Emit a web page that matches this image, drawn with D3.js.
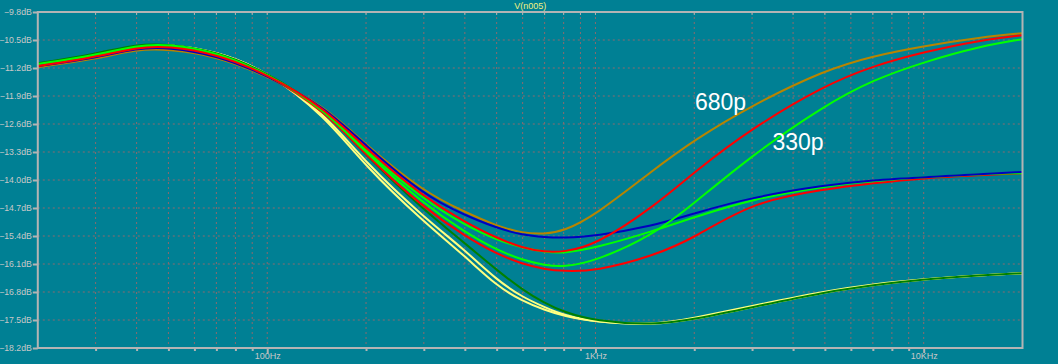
<!DOCTYPE html>
<html>
<head>
<meta charset="utf-8">
<script src="https://cdn.jsdelivr.net/npm/d3@7"></script>
<style>
  html, body { margin: 0; padding: 0; background: #008094; }
  svg { display: block; }
</style>
</head>
<body>
<div id="chart"></div>
<script>
"use strict"

const freqs = [20, 30, 40, 50, 70, 100, 150, 200, 300, 400, 500, 600, 700, 800,
               1000, 1500, 2000, 3000, 5000, 7000, 10000, 15000, 20000];

// V(n005) in dB, one array per trace
const orangeDb   = [-11.18,-10.98,-10.73,-10.73,-10.90,-11.40,-12.15,-13.13,-14.30,-14.80,-15.15,-15.33,-15.35,-15.28,-14.88,-13.75,-13.00,-12.13,-11.25,-10.90,-10.65,-10.43,-10.33];
const blueDb     = [-11.15,-10.95,-10.70,-10.68,-10.88,-11.38,-12.18,-13.15,-14.38,-14.88,-15.20,-15.38,-15.43,-15.45,-15.40,-15.15,-14.83,-14.43,-14.13,-14.00,-13.93,-13.85,-13.80];
const redUpDb    = [-11.15,-10.93,-10.68,-10.65,-10.85,-11.35,-12.20,-13.23,-14.43,-15.05,-15.45,-15.70,-15.80,-15.80,-15.63,-14.68,-13.80,-12.70,-11.63,-11.15,-10.80,-10.50,-10.38];
const greenMidDb = [-11.13,-10.90,-10.65,-10.63,-10.83,-11.33,-12.23,-13.28,-14.50,-15.13,-15.50,-15.70,-15.80,-15.83,-15.70,-15.28,-14.93,-14.48,-14.15,-14.03,-13.93,-13.85,-13.83];
const green330Db = [-11.10,-10.88,-10.63,-10.60,-10.80,-11.33,-12.25,-13.33,-14.60,-15.30,-15.75,-16.00,-16.13,-16.18,-16.03,-15.38,-14.58,-13.38,-12.13,-11.50,-11.05,-10.65,-10.48];
const redLowDb   = [-11.15,-10.93,-10.68,-10.65,-10.85,-11.35,-12.28,-13.38,-14.70,-15.40,-15.85,-16.10,-16.23,-16.28,-16.28,-15.90,-15.45,-14.55,-14.23,-14.08,-13.95,-13.88,-13.83];
const yellow1Db  = [-11.10,-10.88,-10.63,-10.60,-10.78,-11.28,-12.35,-13.58,-14.93,-15.75,-16.50,-16.93,-17.18,-17.38,-17.55,-17.63,-17.48,-17.18,-16.80,-16.63,-16.48,-16.38,-16.33];
const yellow2Db  = [-11.10,-10.88,-10.63,-10.60,-10.78,-11.28,-12.40,-13.68,-15.05,-15.90,-16.65,-17.03,-17.25,-17.40,-17.55,-17.63,-17.45,-17.15,-16.78,-16.60,-16.48,-16.38,-16.33];
const dkGreenDb  = [-11.08,-10.85,-10.60,-10.60,-10.78,-11.30,-12.25,-13.40,-14.75,-15.58,-16.25,-16.75,-17.08,-17.30,-17.53,-17.63,-17.48,-17.18,-16.80,-16.63,-16.48,-16.38,-16.33];

const yTickValues = [-9.8, -10.5, -11.2, -11.9, -12.6, -13.3, -14.0, -14.7, -15.4, -16.1, -16.8, -17.5, -18.2];
const xTickValues = [100, 1000, 10000];
const xTickLabels = ["100Hz", "1KHz", "10KHz"];
const title = "V(n005)";

const traces = [
  {values: yellow1Db,  color: "#ffff80"},
  {values: yellow2Db,  color: "#ffff80"},
  {values: dkGreenDb,  color: "#008000"},
  {values: orangeDb,   color: "#b88400"},
  {values: redLowDb,   color: "#ff0000"},
  {values: greenMidDb, color: "#00ff00"},
  {values: blueDb,     color: "#0000c0"},
  {values: green330Db, color: "#00ff00"},
  {values: redUpDb,    color: "#ff0000"}
];

const notes = [
  {text: "680p", f: 2010, db: -12.25},
  {text: "330p", f: 3460, db: -13.25}
];

let width = 1058, height = 364;
let margin = {top: 12, right: 35.5, bottom: 16, left: 37.8};

let svg = d3.select("#chart")
            .append("svg")
            .attr("width", width)
            .attr("height", height);

svg.append("rect")
   .attr("width", width)
   .attr("height", height)
   .attr("fill", "#008094");

let x = d3.scaleLog()
          .domain([20, 20000])
          .range([margin.left, width - margin.right]);

let y = d3.scaleLinear()
          .domain([-18.2, -9.8])
          .range([height - margin.bottom, margin.top]);

// log grid lines between decades
let gridFreqs = [];
[10, 100, 1000, 10000].forEach(dec => {
  for (let k = 1; k < 10; k++) {
    let f = dec * k;
    if (f > 20 && f < 20000) gridFreqs.push(f);
  }
});

svg.append("g")
   .selectAll("line")
   .data(gridFreqs)
   .enter()
   .append("line")
   .attr("x1", d => x(d)).attr("x2", d => x(d))
   .attr("y1", margin.top).attr("y2", height - margin.bottom)
   .attr("stroke", "#8a6a6e")
   .attr("stroke-width", 1)
   .attr("stroke-dasharray", "2,3");

svg.append("g")
   .selectAll("line")
   .data(yTickValues.slice(1, -1))
   .enter()
   .append("line")
   .attr("x1", margin.left).attr("x2", width - margin.right)
   .attr("y1", d => y(d)).attr("y2", d => y(d))
   .attr("stroke", "#8a6a6e")
   .attr("stroke-width", 1)
   .attr("stroke-dasharray", "2,3");

// traces
let line = d3.line()
             .x((d, i) => x(freqs[i]))
             .y(d => y(d))
             .curve(d3.curveBasis);

svg.append("g")
   .selectAll("path")
   .data(traces)
   .enter()
   .append("path")
   .attr("d", d => line(d.values))
   .attr("fill", "none")
   .attr("stroke", d => d.color)
   .attr("stroke-width", 2);

// frame
const frameColor = "#b4b4b4";
svg.append("rect")
   .attr("x", margin.left)
   .attr("y", margin.top)
   .attr("width", width - margin.right - margin.left)
   .attr("height", height - margin.bottom - margin.top)
   .attr("fill", "none")
   .attr("stroke", frameColor)
   .attr("stroke-width", 2);

// y axis
let yAxis = svg.append("g")
   .attr("transform", "translate(" + margin.left + ",0)")
   .call(d3.axisLeft(y).tickValues(yTickValues).tickSize(5).tickPadding(1)
           .tickFormat(d => d3.format(".1f")(d) + "dB"));
yAxis.select(".domain").remove();
yAxis.selectAll("line").attr("stroke", frameColor).attr("stroke-width", 2);
yAxis.selectAll("text")
     .attr("fill", "#c8c8c8")
     .style("font-family", "'Liberation Sans', Arial, sans-serif")
     .style("font-size", "8.7px");

// x axis: minor ticks + labelled decades
let xAxis = svg.append("g")
   .attr("transform", "translate(0," + (height - margin.bottom) + ")")
   .call(d3.axisBottom(x).tickValues(gridFreqs).tickSize(3)
           .tickFormat(d => {
             let i = xTickValues.indexOf(d);
             return i < 0 ? "" : xTickLabels[i];
           }));
xAxis.select(".domain").remove();
xAxis.selectAll("line").attr("stroke", frameColor).attr("stroke-width", 2)
     .attr("y2", d => xTickValues.indexOf(d) < 0 ? 3 : 5);
xAxis.selectAll("text")
     .attr("fill", "#c8c8c8")
     .attr("y", 5)
     .style("font-family", "'Liberation Sans', Arial, sans-serif")
     .style("font-size", "9px");

// small ticks hanging from the top border
svg.append("g")
   .selectAll("line")
   .data(gridFreqs)
   .enter()
   .append("line")
   .attr("x1", d => x(d)).attr("x2", d => x(d))
   .attr("y1", margin.top).attr("y2", margin.top + 3)
   .attr("stroke", frameColor)
   .attr("stroke-width", 1);

svg.append("text")
   .attr("x", (margin.left + width - margin.right) / 2)
   .attr("y", 9)
   .attr("text-anchor", "middle")
   .attr("fill", "#f0f080")
   .style("font-family", "'Liberation Sans', Arial, sans-serif")
   .style("font-size", "9px")
   .text(title);

svg.append("g")
   .selectAll("text")
   .data(notes)
   .enter()
   .append("text")
   .attr("x", d => x(d.f))
   .attr("y", d => y(d.db))
   .attr("fill", "#ffffff")
   .style("font-family", "'Liberation Sans', Arial, sans-serif")
   .style("font-size", "23px")
   .text(d => d.text);
</script>
</body>
</html>
